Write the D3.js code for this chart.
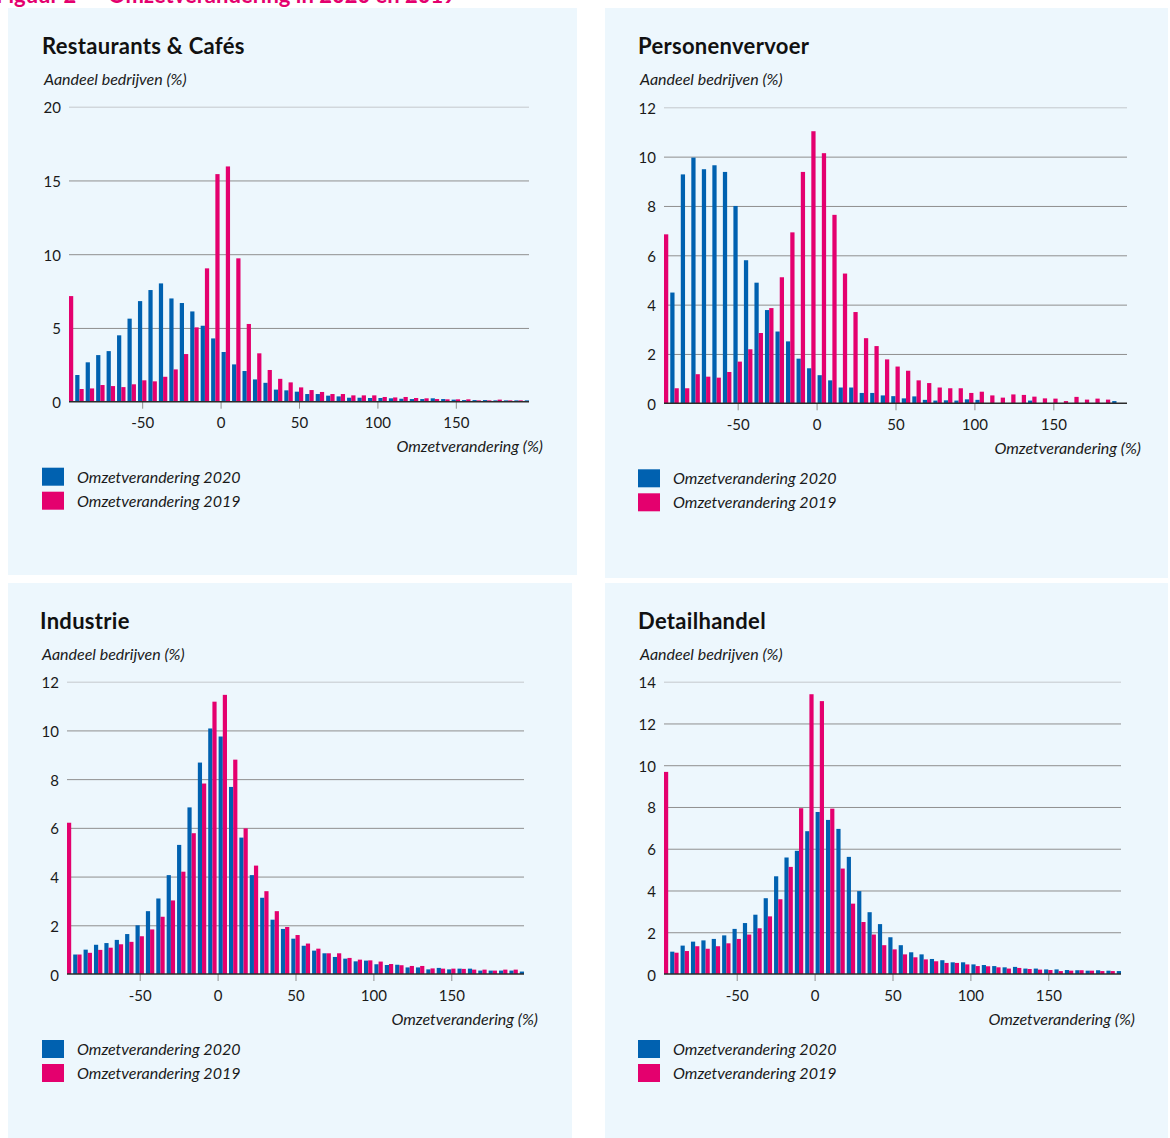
<!DOCTYPE html>
<html>
<head>
<meta charset="utf-8">
<script src="https://cdn.jsdelivr.net/npm/d3@7"></script>
<style>
  body { margin: 0; background: #fff; }
  text { font-family: Lato, "Open Sans", sans-serif; fill: #1a1a1a; }
</style>
</head>
<body>
<svg></svg>
<script>
const svg = d3.select("svg");

const width = 1170;
const height = 1138;

svg.attr("width", width).attr("height", height);

// bin start values (omzetverandering, %), each bin 6.67 wide
const binStarts = [-100, -93.33, -86.67, -80, -73.33, -66.67, -60, -53.33, -46.67, -40,
  -33.33, -26.67, -20, -13.33, -6.67, 0, 6.67, 13.33, 20, 26.67,
  33.33, 40, 46.67, 53.33, 60, 66.67, 73.33, 80, 86.67, 93.33,
  100, 106.67, 113.33, 120, 126.67, 133.33, 140, 146.67, 153.33, 160,
  166.67, 173.33, 180, 186.67, 193.33];
const binWidth = 20 / 3;

const xTicks = [-50, 0, 50, 100, 150];

const restaurants2020 = [8.9, 1.81, 2.67, 3.16, 3.43, 4.5, 5.63, 6.82, 7.57, 8.02,
  7.0, 6.69, 6.12, 5.15, 4.29, 3.37, 2.53, 2.08, 1.51, 1.28,
  0.82, 0.77, 0.68, 0.52, 0.52, 0.41, 0.36, 0.27, 0.27, 0.25,
  0.25, 0.23, 0.2, 0.18, 0.18, 0.23, 0.18, 0.14, 0.11, 0.11,
  0.11, 0.09, 0.09, 0.09, 0.09];
const restaurants2019 = [7.16, 0.86, 0.9, 1.13, 1.06, 0.99, 1.18, 1.45, 1.38, 1.69,
  2.19, 3.23, 5.04, 9.04, 15.43, 15.95, 9.72, 5.27, 3.28, 2.15,
  1.55, 1.31, 0.97, 0.79, 0.66, 0.52, 0.52, 0.43, 0.43, 0.43,
  0.32, 0.29, 0.32, 0.25, 0.23, 0.18, 0.16, 0.16, 0.16, 0.09,
  0.09, 0.14, 0.09, 0.09, 0.05];

const vervoer2020 = [9.32, 4.49, 9.28, 9.96, 9.49, 9.65, 9.38, 8.0, 5.8, 4.89,
  3.78, 2.91, 2.51, 1.81, 1.42, 1.14, 0.93, 0.64, 0.64, 0.42,
  0.42, 0.32, 0.29, 0.2, 0.28, 0.14, 0.11, 0.12, 0.11, 0.16,
  0.14, 0, 0, 0, 0, 0.11, 0, 0, 0, 0,
  0, 0, 0, 0.09, 0];
const vervoer2019 = [6.85, 0.61, 0.61, 1.18, 1.08, 1.04, 1.27, 1.69, 2.19, 2.85,
  3.86, 5.11, 6.93, 9.38, 11.03, 10.14, 7.64, 5.26, 3.7, 2.64,
  2.32, 1.78, 1.49, 1.32, 0.93, 0.82, 0.64, 0.61, 0.61, 0.42,
  0.47, 0.32, 0.23, 0.36, 0.34, 0.27, 0.2, 0.19, 0.09, 0.26,
  0.15, 0.19, 0.15, 0, 0];

const industrie2020 = [0.75, 0.8, 1.0, 1.2, 1.27, 1.4, 1.64, 2.0, 2.58, 3.1,
  4.06, 5.3, 6.84, 8.68, 10.08, 9.75, 7.68, 5.6, 4.06, 3.13,
  2.23, 1.85, 1.45, 1.16, 0.96, 0.85, 0.7, 0.63, 0.52, 0.55,
  0.4, 0.37, 0.38, 0.27, 0.27, 0.19, 0.25, 0.19, 0.22, 0.22,
  0.14, 0.14, 0.14, 0.14, 0.1];
const industrie2019 = [6.21, 0.8, 0.87, 0.99, 1.08, 1.22, 1.32, 1.55, 1.83, 2.35,
  3.02, 4.2, 5.78, 7.82, 11.18, 11.46, 8.8, 5.98, 4.45, 3.4,
  2.58, 1.93, 1.6, 1.25, 1.04, 0.85, 0.85, 0.66, 0.59, 0.56,
  0.51, 0.41, 0.36, 0.33, 0.33, 0.23, 0.22, 0.22, 0.21, 0.18,
  0.18, 0.14, 0.18, 0.18, 0.1];

const detail2020 = [1.0, 1.07, 1.36, 1.55, 1.61, 1.68, 1.85, 2.16, 2.44, 2.84,
  3.63, 4.68, 5.58, 5.9, 6.84, 7.76, 7.38, 6.95, 5.61, 3.97,
  2.96, 2.39, 1.76, 1.38, 1.04, 0.94, 0.72, 0.66, 0.56, 0.56,
  0.46, 0.43, 0.38, 0.32, 0.34, 0.26, 0.26, 0.22, 0.22, 0.19,
  0.18, 0.16, 0.18, 0.16, 0.14];
const detail2019 = [9.68, 1.02, 1.1, 1.33, 1.21, 1.33, 1.47, 1.68, 1.89, 2.19,
  2.76, 3.58, 5.13, 7.94, 13.4, 13.07, 7.92, 5.05, 3.37, 2.49,
  1.89, 1.38, 1.18, 0.94, 0.8, 0.7, 0.61, 0.53, 0.53, 0.46,
  0.38, 0.37, 0.32, 0.26, 0.29, 0.24, 0.21, 0.19, 0.14, 0.16,
  0.18, 0.16, 0.14, 0.14, 0.1];

const seriesNames = ["Omzetverandering 2020", "Omzetverandering 2019"];
const colors = ["#0061b0", "#e4006e"];

// figure title, only its lower edge shows at the top of the picture
svg.append("text").attr("x", -4).attr("y", 3)
  .style("font-size", "22px").style("font-weight", "bold").style("fill", "#e4006e")
  .text("Figuur 2");
svg.append("text").attr("x", 108).attr("y", 3)
  .style("font-size", "22px").style("font-weight", "bold").style("fill", "#e4006e")
  .text("Omzetverandering in 2020 en 2019");

const panels = [
  { id: "p1", title: "Restaurants & Cafés", a: restaurants2020, b: restaurants2019,
    box: [8, 8, 569, 567], left: 69, right: 529, top: 106.7, bottom: 401.7,
    yMax: 20, yTicks: [0, 5, 10, 15, 20], tx: 42, titleY: 54 },
  { id: "p2", title: "Personenvervoer", a: vervoer2020, b: vervoer2019,
    box: [605, 8, 563, 570], left: 664, right: 1127, top: 107.3, bottom: 403.3,
    yMax: 12, yTicks: [0, 2, 4, 6, 8, 10, 12], tx: 638, titleY: 54 },
  { id: "p3", title: "Industrie", a: industrie2020, b: industrie2019,
    box: [8, 583, 564, 555], left: 67, right: 524, top: 681.7, bottom: 974,
    yMax: 12, yTicks: [0, 2, 4, 6, 8, 10, 12], tx: 40, titleY: 629 },
  { id: "p4", title: "Detailhandel", a: detail2020, b: detail2019,
    box: [605, 583, 563, 555], left: 664, right: 1121, top: 681.7, bottom: 974,
    yMax: 14, yTicks: [0, 2, 4, 6, 8, 10, 12, 14], tx: 638, titleY: 629 }
];

panels.forEach(function (p) {
  const g = svg.append("g");

  g.append("rect")
    .attr("x", p.box[0]).attr("y", p.box[1])
    .attr("width", p.box[2]).attr("height", p.box[3])
    .attr("fill", "#edf7fd");

  const x = d3.scaleLinear().domain([-100 + binWidth / 2, 200 - binWidth / 2]).range([p.left, p.right]);
  const y = d3.scaleLinear().domain([0, p.yMax]).range([p.bottom, p.top]);

  // titles
  g.append("text").attr("x", p.tx).attr("y", p.titleY)
    .style("font-size", "22px").style("font-weight", "bold").style("fill", "#111")
    .style("letter-spacing", "0.3px")
    .text(p.title);
  g.append("text").attr("x", p.tx + 2).attr("y", p.titleY + 30.5)
    .style("font-size", "16px").style("font-style", "italic")
    .text("Aandeel bedrijven (%)");

  // gridlines
  const yAxis = d3.axisLeft(y).tickValues(p.yTicks).tickSize(-(p.right - p.left)).tickPadding(8);
  const ya = g.append("g").attr("transform", `translate(${p.left},0)`).call(yAxis);
  ya.select(".domain").remove();
  ya.selectAll(".tick line").attr("stroke", "#8f8f8f").attr("stroke-width", 1);
  ya.selectAll(".tick").filter(function (d) { return d === p.yMax; })
    .select("line").attr("stroke", "#c4c8cc");
  ya.selectAll(".tick").filter(function (d) { return d === 0; }).select("line").remove();
  ya.selectAll(".tick text")
    .attr("dy", "0.4em")
    .style("font-size", "15px").style("font-family", "Lato, sans-serif").attr("fill", "#1a1a1a");

  // bars
  const clipId = "clip-" + p.id;
  g.append("clipPath").attr("id", clipId)
    .append("rect").attr("x", p.left).attr("y", p.top - 20)
    .attr("width", p.right - p.left).attr("height", p.bottom - p.top + 20);

  const bars = g.append("g").attr("clip-path", `url(#${clipId})`);
  const half = function (d) { return (x(d + binWidth) - x(d) - 2) / 2; };

  bars.selectAll(".bar2020")
    .data(binStarts)
    .enter()
    .append("rect")
    .attr("class", "bar2020")
    .attr("x", function (d) { return x(d) + 1; })
    .attr("y", function (d, i) { return y(p.a[i]); })
    .attr("width", half)
    .attr("height", function (d, i) { return y(0) - y(p.a[i]); })
    .attr("fill", colors[0]);

  bars.selectAll(".bar2019")
    .data(binStarts)
    .enter()
    .append("rect")
    .attr("class", "bar2019")
    .attr("x", function (d) { return x(d) + 1 + half(d); })
    .attr("y", function (d, i) { return y(p.b[i]); })
    .attr("width", half)
    .attr("height", function (d, i) { return y(0) - y(p.b[i]); })
    .attr("fill", colors[1]);

  // x axis
  const xAxis = d3.axisBottom(x).tickValues(xTicks).tickSize(7).tickPadding(9)
    .tickFormat(function (d) { return String(d); });
  const xa = g.append("g").attr("transform", `translate(0,${p.bottom})`).call(xAxis);
  xa.select(".domain").remove();
  xa.selectAll(".tick line").attr("stroke", "#8f8f8f");
  xa.selectAll(".tick text")
    .style("font-size", "15px").style("font-family", "Lato, sans-serif").attr("fill", "#1a1a1a");

  g.append("line")
    .attr("x1", p.left).attr("x2", p.right)
    .attr("y1", p.bottom).attr("y2", p.bottom)
    .attr("stroke", "#2b2b2b").attr("stroke-width", 1.5);

  g.append("text")
    .attr("x", p.right + 14).attr("y", p.bottom + 50.5)
    .attr("text-anchor", "end")
    .style("font-size", "16px").style("font-style", "italic")
    .text("Omzetverandering (%)");

  // legend
  const legend = g.append("g").attr("transform", `translate(${p.tx + (p.id === "p3" ? 2 : 0)},${p.bottom + 66})`);
  seriesNames.forEach(function (name, i) {
    legend.append("rect").attr("x", 0).attr("y", i * 24)
      .attr("width", 22).attr("height", 18).attr("fill", colors[i]);
    legend.append("text").attr("x", 35).attr("y", i * 24 + 15)
      .style("font-size", "16px").style("font-style", "italic")
      .text(name);
  });
});
</script>
</body>
</html>
